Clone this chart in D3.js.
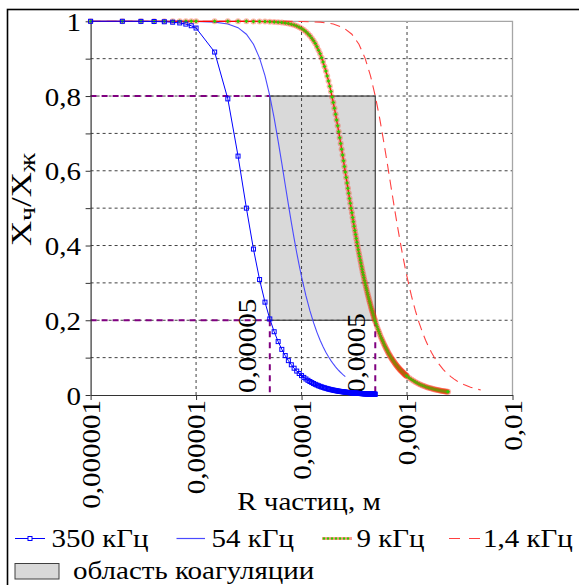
<!DOCTYPE html>
<html><head><meta charset="utf-8">
<script src="https://cdn.jsdelivr.net/npm/d3@7"></script>
</head><body style="margin:0">
<svg id="c" width="579" height="585"></svg>
<script>
// ---------- data (R in micrometres) ----------
const r350 = [1,2,3,4,5,6,7,8,9,10,
15,20,25,30,35,40,45,50,55,60,65,70,75,80,85,90,95,100,
105,110,115,120,125,130,135,140,145,150,155,160,165,170,175,180,185,190,195,200,
205,210,215,220,225,230,235,240,245,250,255,260,265,270,275,280,285,290,295,300,
305,310,315,320,325,330,335,340,345,350,355,360,365,370,375,380,385,390,395,400,
405,410,415,420,425,430,435,440,445,450,455,460,465,470,475,480,485,490,495,500];
const y350 = [1,1,0.9998,0.9995,0.9988,0.9976,0.9956,0.9925,0.9881,0.982,
0.9177,0.7924,0.6393,0.5,0.3905,0.3089,0.2485,0.2035,0.1693,0.1429,0.1221,0.1055,0.092,0.0809,0.0717,0.064,0.0575,0.0519,
0.0471,0.0429,0.0393,0.0361,0.0333,0.0307,0.0285,0.0265,0.0247,0.0231,0.0216,0.0203,0.0191,0.018,0.017,0.016,0.0152,0.0144,0.0137,0.013,
0.0124,0.0118,0.0112,0.0107,0.0103,0.0098,0.0094,0.009,0.0087,0.0083,0.008,0.0077,0.0074,0.0071,0.0069,0.0066,0.0064,0.0062,0.006,0.0058,
0.0056,0.0054,0.0052,0.0051,0.0049,0.0048,0.0046,0.0045,0.0044,0.0042,0.0041,0.004,0.0039,0.0038,0.0037,0.0036,0.0035,0.0034,0.0033,0.0032,
0.0032,0.0031,0.003,0.0029,0.0029,0.0028,0.0027,0.0027,0.0026,0.0026,0.0025,0.0025,0.0024,0.0024,0.0023,0.0023,0.0022,0.0022,0.0021,0.0021];

const r54 = [1,2,5,10,15,20,25,30,35,40,45,50,55,60,65,70,75,80,85,90,95,100,
110,120,130,140,150,160,170,180,190,200,210,220,230,240,250,260];
const y54 = [1,1,1,0.9996,0.9977,0.9929,0.9829,0.9655,0.9387,0.9016,0.8548,0.8002,0.7407,0.6796,0.6196,0.5627,0.51,0.4621,0.4191,0.3807,0.3466,0.3164,
0.2657,0.2256,0.1936,0.1677,0.1466,0.1292,0.1146,0.1024,0.092,0.0831,0.0754,0.0687,0.0629,0.0578,0.0533,0.0493];

const r9 = [1,2,3,4,5,6,7,8,9,10,
15,20,25,30,35,40,45,50,55,60,65,70,75,80,85,90,95,100,
105,110,115,120,125,130,135,140,145,150,155,160,165,170,175,180,185,190,195,200,
205,210,215,220,225,230,235,240,245,250,255,260,265,270,275,280,285,290,295,300,
305,310,315,320,325,330,335,340,345,350,355,360,365,370,375,380,385,390,395,400,
405,410,415,420,425,430,435,440,445,450,455,460,465,470,475,480,485,490,495,500,
510,520,530,540,550,560,570,580,590,600,610,620,630,640,650,660,670,680,690,700,
710,720,730,740,750,760,770,780,790,800,810,820,830,840,850,860,870,880,890,900,
910,920,930,940,950,960,970,980,990,1000,
1050,1100,1150,1200,1250,1300,1350,1400,1450,1500,1550,1600,1650,1700,1750,1800,1850,1900,1950,2000,
2050,2100,2150,2200,2250,2300,2350,2400,2450];
const y9 = [1,1,1,1,1,1,1,1,1,1,
1,1,0.9999,0.9998,0.9997,0.9995,0.9992,0.9988,0.9982,0.9974,0.9965,0.9953,0.9938,0.992,0.9898,0.9873,0.9843,0.9808,
0.9768,0.9722,0.967,0.9612,0.9549,0.9479,0.9403,0.9318,0.9227,0.9129,0.9025,0.891,0.8792,0.8668,0.8539,0.8404,0.8265,0.8121,0.7974,0.7824,
0.767,0.7515,0.7359,0.7202,0.7044,0.6887,0.673,0.6574,0.6419,0.6266,0.6114,0.5965,0.5819,0.5675,0.5534,0.5396,0.526,0.5129,0.5,0.4874,
0.4752,0.4633,0.4517,0.4405,0.4296,0.4189,0.4086,0.3986,0.3889,0.3795,0.3703,0.3614,0.3529,0.3445,0.3365,0.3286,0.321,0.3137,0.3065,0.2996,
0.2929,0.2864,0.2801,0.2739,0.268,0.2622,0.2566,0.2512,0.2459,0.2408,0.2358,0.231,0.2263,0.2218,0.2174,0.2131,0.2089,0.2048,0.2009,0.197,
0.1897,0.1827,0.1761,0.1698,0.1639,0.1582,0.1528,0.1477,0.1429,0.1382,0.1338,0.1296,0.1256,0.1217,0.1181,0.1146,0.1112,0.108,0.1049,0.102,
0.0992,0.0965,0.0939,0.0914,0.089,0.0867,0.0845,0.0823,0.0803,0.0783,0.0764,0.0745,0.0727,0.071,0.0694,0.0678,0.0662,0.0647,0.0633,0.0619,
0.0606,0.0593,0.058,0.0568,0.0556,0.0545,0.0533,0.0523,0.0512,0.0502,
0.0456,0.0415,0.038,0.0349,0.0322,0.0297,0.0276,0.0256,0.0239,0.0223,0.0209,0.0196,0.0185,0.0174,0.0164,0.0155,0.0147,0.0139,0.0132,0.0126,
0.012,0.0114,0.0109,0.0104,0.0099,0.0095,0.0091,0.0087,0.0084];

const r14 = [1,10,50,100,150,200,250,300,350,400,450,500,550,600,650,700,750,800,850,900,950,1000,
1100,1200,1300,1400,1500,1600,1700,1800,1900,2000,2200,2400,2600,2800,3000,3500,4000,4500,5000];
const y14 = [1,1,1,0.9996,0.9977,0.9929,0.9829,0.9655,0.9387,0.9016,0.8548,0.8002,0.7407,0.6796,0.6196,0.5627,0.51,0.4621,0.4191,0.3807,0.3466,0.3164,
0.2657,0.2256,0.1936,0.1677,0.1466,0.1292,0.1146,0.1024,0.092,0.0831,0.0687,0.0578,0.0493,0.0425,0.037,0.0272,0.0208,0.0165,0.0133];

const seriesNames = ["350 кГц","54 кГц","9 кГц","1,4 кГц"];
const boxName = "область коагуляции";
const boxR = [50, 500];
const boxY = [0.2, 0.8];
const xTickVals = [1,10,100,1000,10000];
const xTickLabels = ["0,000001","0,00001","0,0001","0,001","0,01"];
const yTickVals = [0,0.1,0.2,0.3,0.4,0.5,0.6,0.7,0.8,0.9,1];
const yLabelVals = [0,0.2,0.4,0.6,0.8,1];
const yLabels = ["0","0,2","0,4","0,6","0,8","1"];
const yGrid = [0.1,0.2,0.3,0.4,0.5,0.6,0.7,0.8,0.9];
const xGrid = [10,100,1000];
const boxLabels = ["0,00005","0,0005"];
const xTitle = "R частиц, м";

// ---------- drawing ----------
const FONT = '"Times New Roman", Times, Tinos, FreeSerif, "Liberation Serif", serif';
const svg = d3.select("#c");
const x = d3.scaleLog().domain([1,10000]).range([90.6,512.5]);
const y = d3.scaleLinear().domain([0,1]).range([395,21.3]);
const SX = 1.16, FS = 25;

function stretch(t){
  const w = t.node().getComputedTextLength();
  if (w > 0) t.attr("textLength", w*SX).attr("lengthAdjust","spacingAndGlyphs");
  return t;
}
function label(g, tx, ty, rot, str, anchor, size){
  const t = g.append("text").attr("x",tx).attr("y",ty)
    .attr("text-anchor", anchor).attr("font-size", size || FS).attr("fill","#000")
    .style("font-family", FONT).text(str);
  if (rot) t.attr("transform", `rotate(${rot},${tx},${ty})`);
  return stretch(t);
}

// outer frame
svg.append("rect").attr("x",7.5).attr("y",9.5).attr("width",620).attr("height",620)
  .attr("fill","none").attr("stroke","#000").attr("stroke-width",1.6);

// coagulation box fill
svg.append("rect").attr("x",x(boxR[0])).attr("y",y(boxY[1]))
  .attr("width",x(boxR[1])-x(boxR[0])).attr("height",y(boxY[0])-y(boxY[1]))
  .attr("fill","#d9d9d9");

// grid
svg.append("g").selectAll("line").data(yGrid).join("line")
  .attr("x1",x(1)).attr("x2",x(10000)).attr("y1",d=>y(d)).attr("y2",d=>y(d))
  .attr("stroke","#404040").attr("stroke-dasharray","3,3");
svg.append("g").selectAll("line").data(xGrid).join("line")
  .attr("x1",d=>x(d)).attr("x2",d=>x(d)).attr("y1",y(0)).attr("y2",y(1))
  .attr("stroke","#404040").attr("stroke-dasharray","3,3");

// box outline
svg.append("rect").attr("x",x(boxR[0])).attr("y",y(boxY[1]))
  .attr("width",x(boxR[1])-x(boxR[0])).attr("height",y(boxY[0])-y(boxY[1]))
  .attr("fill","none").attr("stroke","#404040").attr("stroke-width",1.2);

// plot border (top/right)
svg.append("path").attr("d",`M${x(1)},${y(1)}H${x(10000)}V${y(0)}`)
  .attr("fill","none").attr("stroke","#a6a6a6").attr("stroke-width",1.3);

// purple guide lines
const pg = svg.append("g").attr("stroke","#800080").attr("stroke-width",2).attr("stroke-dasharray","6,5").attr("fill","none");
boxY.forEach(v=>pg.append("line").attr("x1",x(1)).attr("x2",x(boxR[0])).attr("y1",y(v)).attr("y2",y(v)));
boxR.forEach(v=>pg.append("line").attr("x1",x(v)).attr("x2",x(v)).attr("y1",y(boxY[0])).attr("y2",y(0)));

// box labels
label(svg, x(boxR[0])-14, 393, -90, boxLabels[0], "start");
label(svg, x(boxR[1])-10, 393, -90, boxLabels[1], "start");

// axes
const gy = svg.append("g").attr("transform",`translate(${x(1)},0)`)
  .call(d3.axisLeft(y).tickValues(yTickVals).tickSize(5).tickSizeOuter(0).tickFormat(""));
const gx = svg.append("g").attr("transform",`translate(0,${y(0)})`)
  .call(d3.axisBottom(x).tickValues(xTickVals).tickSize(5).tickSizeOuter(0).tickFormat(""));
[gy,gx].forEach(g=>{g.attr("font-family",null);
  g.select(".domain").attr("stroke","#333").attr("stroke-width",1.2);
  g.selectAll(".tick line").attr("stroke","#333");});

yLabelVals.forEach((v,i)=>label(svg, 81, y(v)+9.5, 0, yLabels[i], "end"));
xTickVals.forEach((v,i)=>label(svg, x(v)+9, 400, -90, xTickLabels[i], "end"));

// axis titles
label(svg, 309, 510, 0, xTitle, "middle");
const yt = svg.append("text").attr("x",31).attr("y",199.5)
  .attr("transform", `rotate(-90,31,199.5)`)
  .attr("text-anchor","middle").attr("font-size",30).attr("fill","#000").style("font-family", FONT);
yt.append("tspan").text("X");
yt.append("tspan").attr("font-size",24).attr("dy",4).text("ч");
yt.append("tspan").attr("dy",-4).text("/X");
yt.append("tspan").attr("font-size",24).attr("dy",4).text("ж");
stretch(yt);

// series
const line = d3.line().x(d=>x(d[0])).y(d=>y(d[1]));
const d350 = r350.map((r,i)=>[r,y350[i]]);
const d54 = r54.map((r,i)=>[r,y54[i]]);
const d9 = r9.map((r,i)=>[r,y9[i]]);
const d14 = r14.map((r,i)=>[r,y14[i]]);

svg.append("path").attr("d",line(d14)).attr("fill","none").attr("stroke","#ff4040")
  .attr("stroke-width",1.1).attr("stroke-dasharray","10,6");
svg.append("path").attr("d",line(d54)).attr("fill","none").attr("stroke","#4a4aff").attr("stroke-width",1.1);

// 9 kHz
svg.append("path").attr("d",line(d9)).attr("fill","none").attr("stroke","#ff0000").attr("stroke-width",1.2);
const m9 = svg.append("g");
d9.forEach(d=>{
  const cx=x(d[0]), cy=y(d[1]);
  m9.append("circle").attr("cx",cx).attr("cy",cy).attr("r",3).attr("fill","#ff2a10").attr("opacity",0.35);
  m9.append("path").attr("d",`M${cx},${cy-2}L${cx+2},${cy}L${cx},${cy+2}L${cx-2},${cy}Z`).attr("fill","#2ecc00");
});

// 350 kHz
svg.append("path").attr("d",line(d350)).attr("fill","none").attr("stroke","#0000ff").attr("stroke-width",1);
svg.append("g").selectAll("rect").data(d350).join("rect")
  .attr("x",d=>x(d[0])-2).attr("y",d=>y(d[1])-2).attr("width",4).attr("height",4)
  .attr("fill","none").attr("stroke","#0000ff").attr("stroke-width",1);

// ---------- legend ----------
const lg = svg.append("g");
const ly = 538.5, lb = 547;
lg.append("line").attr("x1",15).attr("x2",45).attr("y1",ly).attr("y2",ly).attr("stroke","#0000ff");
lg.append("rect").attr("x",28).attr("y",ly-2).attr("width",4).attr("height",4).attr("fill","#fff").attr("stroke","#0000ff");
label(lg, 51.5, lb, 0, seriesNames[0], "start");
lg.append("line").attr("x1",176.5).attr("x2",205).attr("y1",ly).attr("y2",ly).attr("stroke","#4a4aff").attr("stroke-width",1.2);
label(lg, 211.5, lb, 0, seriesNames[1], "start");
lg.append("line").attr("x1",322).attr("x2",352).attr("y1",ly).attr("y2",ly).attr("stroke","#ff3a1a").attr("stroke-width",3).attr("opacity",0.5);
[324,328,332,336,340,344,348].forEach(cx=>lg.append("circle").attr("cx",cx).attr("cy",ly).attr("r",1.2).attr("fill","#2ecc00"));
label(lg, 356.5, lb, 0, seriesNames[2], "start");
lg.append("line").attr("x1",449).attr("x2",480).attr("y1",ly).attr("y2",ly).attr("stroke","#ff4040")
  .attr("stroke-width",1.2).attr("stroke-dasharray","11,9");
label(lg, 483, lb, 0, seriesNames[3], "start");
lg.append("rect").attr("x",15).attr("y",563.5).attr("width",44).attr("height",15.5).attr("fill","#d9d9d9").attr("stroke","#404040");
label(lg, 73, 579, 0, boxName, "start");
</script>
</body></html>
